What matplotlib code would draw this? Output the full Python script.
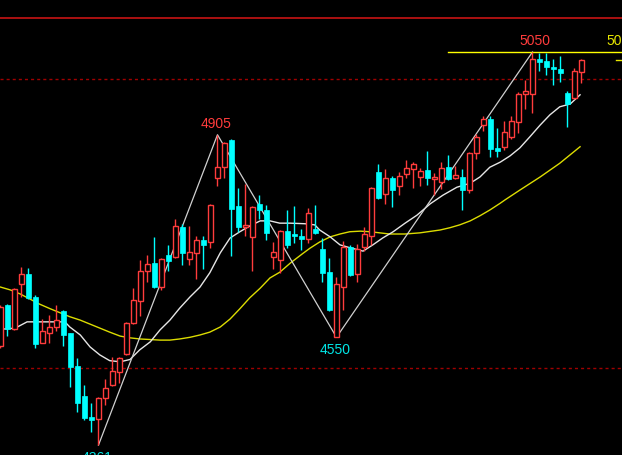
import matplotlib
matplotlib.use("Agg")
import matplotlib.pyplot as plt
import numpy as np

# daily candles (84 bars)
opens = [4535, 4606, 4564, 4643, 4661, 4621, 4540, 4557, 4568, 4596,
         4557, 4500, 4447, 4410, 4407, 4443, 4466, 4489, 4521, 4575,
         4614, 4666, 4680, 4638, 4694, 4691, 4743, 4687, 4698, 4721,
         4717, 4829, 4849, 4896, 4780, 4743, 4726, 4784, 4773, 4691,
         4685, 4736, 4731, 4728, 4722, 4740, 4705, 4664, 4551, 4638,
         4708, 4661, 4708, 4728, 4840, 4801, 4829, 4815, 4836, 4845,
         4831, 4843, 4827, 4822, 4849, 4829, 4831, 4808, 4873, 4922,
         4933, 4882, 4884, 4901, 4927, 4976, 4976, 5038, 5034, 5024,
         5020, 4978, 4969, 5015]
highs = [4606, 4608, 4636, 4673, 4671, 4624, 4582, 4589, 4606, 4598,
         4558, 4514, 4466, 4435, 4445, 4477, 4515, 4515, 4577, 4636,
         4685, 4694, 4726, 4689, 4712, 4757, 4749, 4745, 4728, 4728,
         4784, 4905, 4892, 4898, 4812, 4819, 4780, 4799, 4782, 4717,
         4738, 4773, 4780, 4740, 4777, 4782, 4724, 4689, 4656, 4719,
         4712, 4713, 4743, 4813, 4854, 4845, 4833, 4840, 4861, 4857,
         4847, 4876, 4838, 4857, 4869, 4850, 4845, 4875, 4906, 4938,
         4938, 4917, 4929, 4938, 4980, 5001, 5050, 5048, 5048, 5038,
         5043, 4982, 5022, 5038]
lows = [4531, 4552, 4563, 4621, 4617, 4531, 4540, 4540, 4561, 4535,
        4463, 4419, 4405, 4384, 4361, 4431, 4465, 4470, 4519, 4573,
        4587, 4647, 4636, 4633, 4666, 4689, 4677, 4677, 4652, 4670,
        4707, 4815, 4829, 4692, 4735, 4728, 4666, 4757, 4721, 4670,
        4663, 4707, 4715, 4703, 4715, 4731, 4647, 4596, 4550, 4598,
        4657, 4647, 4701, 4712, 4792, 4784, 4778, 4799, 4829, 4812,
        4815, 4817, 4799, 4810, 4826, 4827, 4773, 4803, 4862, 4912,
        4866, 4866, 4878, 4898, 4908, 4950, 4943, 5017, 5010, 4992,
        4997, 4919, 4968, 4996]
closes = [4603, 4564, 4635, 4661, 4619, 4538, 4561, 4568, 4580, 4554,
          4498, 4435, 4408, 4405, 4443, 4461, 4491, 4514, 4575, 4615,
          4666, 4678, 4638, 4687, 4684, 4745, 4698, 4699, 4721, 4712,
          4782, 4849, 4891, 4775, 4743, 4747, 4778, 4773, 4733, 4699,
          4736, 4712, 4728, 4722, 4768, 4733, 4663, 4598, 4643, 4708,
          4659, 4705, 4731, 4812, 4794, 4829, 4808, 4833, 4847, 4854,
          4841, 4829, 4831, 4847, 4827, 4834, 4808, 4873, 4901, 4933,
          4880, 4876, 4910, 4929, 4976, 4982, 5038, 5033, 5024, 5020,
          5013, 4959, 5017, 5036]

# short moving average (white), sampled along the bars
ma_s_x = [0, 2.1, 3.8, 4.6, 9.2, 9.9, 11.4, 12.8, 14.2, 15.6, 17.1, 18.5,
          19.9, 21.4, 22.8, 24.2, 25.6, 27.1, 28.5, 29.9, 31.4, 32.8, 34.2,
          35.6, 37.1, 38.5, 39.9, 41.4, 43.5, 44.9, 45.6, 47.1, 48.5, 49.9,
          51.8, 53.2, 54.6, 56.1, 57.8, 59.5, 61.4, 63.2, 65.2, 67.1, 68.5,
          69.9, 71.4, 72.8, 74.2, 75.6, 77.1, 78.5, 79.9, 81.4, 82.8]
ma_s_y = [4564, 4566, 4577, 4577, 4577, 4568, 4554, 4533, 4519, 4509, 4507,
          4511, 4528, 4542, 4563, 4580, 4601, 4621, 4638, 4663, 4698, 4724,
          4735, 4745, 4754, 4754, 4750, 4750, 4749, 4747, 4738, 4726, 4712,
          4707, 4701, 4712, 4724, 4735, 4750, 4764, 4784, 4799, 4813, 4820,
          4831, 4848, 4857, 4868, 4882, 4901, 4922, 4940, 4954, 4959, 4975]

# long moving average (yellow)
ma_l_x = [0, 1.4, 2.8, 4.2, 5.6, 7.1, 8.5, 9.9, 11.4, 12.8, 14.2, 15.6,
          17.1, 18.5, 19.9, 21.4, 22.8, 24.2, 25.6, 27.1, 28.5, 29.9, 31.4,
          32.8, 34.2, 35.6, 37.1, 38.5, 39.9, 41.4, 43.1, 44.2, 45.6, 47.1,
          48.5, 49.9, 51.4, 52.8, 54.2, 55.6, 57.8, 59.9, 62.8, 64.2, 65.6,
          67.1, 68.5, 69.9, 71.4, 72.1, 74.2, 77.1, 79.9, 82.8]
ma_l_y = [4638, 4633, 4626, 4617, 4608, 4600, 4593, 4586, 4580, 4573, 4566,
          4559, 4552, 4549, 4547, 4546, 4545, 4545, 4547, 4550, 4554, 4559,
          4568, 4582, 4600, 4619, 4636, 4654, 4664, 4680, 4696, 4706, 4717,
          4726, 4731, 4735, 4736, 4735, 4733, 4731, 4731, 4733, 4738, 4742,
          4747, 4754, 4763, 4773, 4785, 4791, 4808, 4831, 4855, 4884]

# swing points (bar index, price)
pivot_idx = [14, 31, 48, 76]
pivot_val = [4361, 4905, 4550, 5050]

top_line = 5110
dash_levels = [5003, 4496]

RED = "#ff3c3c"
CYAN = "#00ffff"

plt.rcParams["lines.scale_dashes"] = False
fig = plt.figure(figsize=(6.22, 4.55), dpi=100, facecolor="black")
ax = fig.add_axes([0, 0, 1, 1], facecolor="black")
ax.set_axis_off()

o = np.array(opens); c = np.array(closes)
h = np.array(highs); l = np.array(lows)
x = np.arange(len(o))
up = c >= o
dn = ~up

# reference lines
ax.axhline(top_line, color="#c81414", lw=1.2, zorder=1)
for lv in dash_levels:
    ax.axhline(lv, color="#a00000", lw=1.0, dashes=(2.2, 2.2), zorder=1)

# moving averages and zigzag
ax.plot(ma_l_x, ma_l_y, color="#dcdc00", lw=1.0, zorder=2)
ax.plot(ma_s_x, ma_s_y, color="#e6e6e6", lw=1.0, zorder=2)
ax.plot(pivot_idx, pivot_val, color="#d0d0d0", lw=0.9, zorder=2)

# down candles: filled cyan
ax.vlines(x[dn], l[dn], h[dn], color=CYAN, lw=1.0, zorder=3)
ax.bar(x[dn], o[dn] - c[dn], bottom=c[dn], width=0.68,
       color=CYAN, edgecolor=CYAN, lw=0.5, zorder=4)

# up candles: hollow red, wicks stop at the body
ax.vlines(x[up], l[up], o[up], color=RED, lw=1.0, zorder=3)
ax.vlines(x[up], c[up], h[up], color=RED, lw=1.0, zorder=3)
ax.bar(x[up], np.maximum(c[up] - o[up], 1.5), bottom=o[up], width=0.58,
       facecolor="black", edgecolor=RED, lw=1.0, zorder=4)

# high/low tags
font = dict(family="Liberation Sans", fontsize=10)
for i, v in zip(pivot_idx, pivot_val):
    if v in (4905, 5050):
        ax.annotate(str(v), (i, v), xytext=(2 if v == 5050 else -1, 3),
                    textcoords="offset points", ha="center", va="bottom",
                    color=RED, **font)
    else:
        ax.annotate(str(v), (i, v), xytext=(-1, -4),
                    textcoords="offset points", ha="center", va="top",
                    color="#00e6e6", **font)

# resistance line at the top swing and last price marker
ax.plot([63.9, 90], [5050, 5050], color="#ffff00", lw=1.0, zorder=2)
ax.annotate("5050", (86.5, 5050), xytext=(0, 3), textcoords="offset points",
            ha="left", va="bottom", color="#e6e600", **font)
ax.plot([87.9, 90], [closes[-1], closes[-1]], color="#e6e600", lw=1.0)

ax.set_xlim(-0.07, 88.79)
ax.set_ylim(4343.6, 5141.2)

fig.savefig("out.png", dpi=100, facecolor="black")
